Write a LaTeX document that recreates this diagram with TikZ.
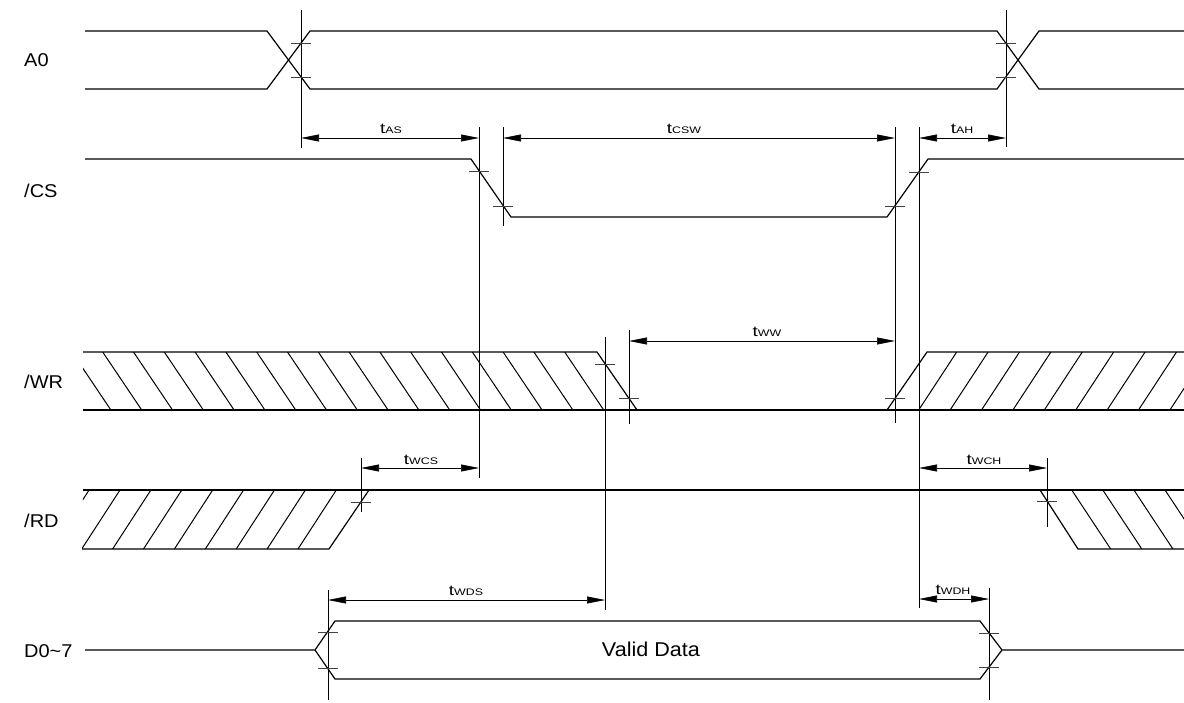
\documentclass[tikz,border=0pt]{standalone}
\usepackage{fontspec}
\setmainfont{Liberation Sans}
\newfontfamily\widefont{Liberation Sans}[FakeStretch=1.3]
\newfontfamily\stretchfont{Liberation Sans}[FakeStretch=1.08]
\usetikzlibrary{arrows.meta}
\newcommand\tsb[1]{t{\fontsize{9.5}{9.5}\selectfont #1}}
\newcommand\mytick[2]{\draw[tickmark] ({#1-10},#2) -- ({#1+10},#2);}
\begin{document}
\begin{tikzpicture}[x=1pt,y=-1pt,
  sig/.style={line width=1.2pt, line join=miter},
  refline/.style={line width=0.75pt},
  tickmark/.style={line width=0.6pt, black!75},
  hatch/.style={line width=1pt},
  dim/.style={line width=0.6pt, {Triangle[length=18pt,width=7pt]}-{Triangle[length=18pt,width=7pt]}},
  siglabel/.style={anchor=base west, inner sep=0pt, font=\stretchfont\fontsize{18.5}{18.5}\selectfont},
  tlabel/.style={anchor=base, inner sep=0pt, font=\widefont\fontsize{14.5}{14.5}\selectfont}]
\useasboundingbox (0,0) rectangle (1184,702);

% signal names
\node[siglabel] (lA0) at (24,66) {A0};
\node[siglabel] (lCS) at (24,197) {/CS};
\node[siglabel] (lWR) at (24,388) {/WR};
\node[siglabel] (lRD) at (24,527) {/RD};
\node[siglabel] (lD) at (24,657) {D0\char`~7};

% hatching
\begin{scope}
\clip (83,352) -- (597,352) -- (637,410) -- (83,410) -- cycle;
\foreach \k in {-1,...,15} \draw[hatch] ({102.7+30.8*\k},352) -- ({141.7+30.8*\k},410);
\end{scope}
\begin{scope}
\clip (887,410) -- (927,352) -- (1184,352) -- (1184,410) -- cycle;
\foreach \k in {0,...,8} \draw[hatch] ({918.7+31.4*\k},410) -- ({956.7+31.4*\k},352);
\end{scope}
\begin{scope}
\clip (83,490) -- (369,490) -- (329,549) -- (82,549) -- cycle;
\foreach \k in {-1,...,7} \draw[hatch] ({81.7+30.9*\k},549) -- ({120+30.9*\k},490);
\end{scope}
\begin{scope}
\clip (1040,490) -- (1184,490) -- (1184,549) -- (1078,549) -- cycle;
\foreach \k in {0,...,4} \draw[hatch] ({1071.7+31.1*\k},490) -- ({1110.7+31.1*\k},549);
\end{scope}

% signals
\draw[sig] (85,31) -- (267,31) -- (310,89) -- (997,89) -- (1039,31) -- (1184,31);
\draw[sig] (85,89) -- (267,89) -- (310,31) -- (997,31) -- (1039,89) -- (1184,89);
\draw[sig] (85,159) -- (471,159) -- (511,217) -- (887,217) -- (928,159) -- (1184,159);
\draw[sig] (83,352) -- (597,352) -- (637,410);
\draw[sig] (83,410) -- (1184,410);
\draw[sig] (887,410) -- (927,352) -- (1184,352);
\draw[sig] (83,490) -- (1184,490);
\draw[sig] (82,549) -- (329,549) -- (369,490);
\draw[sig] (1040,490) -- (1078,549) -- (1184,549);
\draw[sig] (85,650) -- (315,650) -- (335,621) -- (980,621) -- (1002,650) -- (1184,650);
\draw[sig] (315,650) -- (335,679) -- (980,679) -- (1002,650);

% reference verticals
\draw[refline] (301,10) -- (301,148);
\draw[refline] (1006,10) -- (1006,147);
\draw[refline] (479,127) -- (479,478);
\draw[refline] (503,127) -- (503,226);
\draw[refline] (895,127) -- (895,423);
\draw[refline] (919,127) -- (919,608);
\draw[refline] (605,337) -- (605,610);
\draw[refline] (629,330) -- (629,424);
\draw[refline] (361,458) -- (361,512);
\draw[refline] (1047,458) -- (1047,527);
\draw[refline] (328,590) -- (328,700);
\draw[refline] (989,588) -- (989,700);

% ticks
\mytick{301}{43}\mytick{301}{77}
\mytick{1006}{43}\mytick{1006}{77}
\mytick{479}{171}\mytick{503}{206}
\mytick{895}{206}\mytick{919}{172}
\mytick{605}{364}\mytick{629}{398}\mytick{895}{398}
\mytick{361}{502}\mytick{1047}{501}
\mytick{328}{632}\mytick{328}{668}
\mytick{989}{633}\mytick{989}{667}

% dimension endpoints
\coordinate (as1) at (301,138); \coordinate (as2) at (479,138);
\coordinate (csw1) at (503,138); \coordinate (csw2) at (895,138);
\coordinate (ah1) at (919,138); \coordinate (ah2) at (1006,138);
\coordinate (ww1) at (629,341); \coordinate (ww2) at (895,341);
\coordinate (wcs1) at (361,468); \coordinate (wcs2) at (479,468);
\coordinate (wch1) at (919,468); \coordinate (wch2) at (1047,468);
\coordinate (wds1) at (328,600); \coordinate (wds2) at (605,600);
\coordinate (wdh1) at (919,599); \coordinate (wdh2) at (989,599);

\draw[dim] (as1) -- (as2);
\draw[dim] (csw1) -- (csw2);
\draw[dim] (ah1) -- (ah2);
\draw[dim] (ww1) -- (ww2);
\draw[dim] (wcs1) -- (wcs2);
\draw[dim] (wch1) -- (wch2);
\draw[dim] (wds1) -- (wds2);
\draw[dim] (wdh1) -- (wdh2);

\node[tlabel] (tas) at (391,133) {\tsb{AS}};
\node[tlabel] (tcsw) at (684,133) {\tsb{CSW}};
\node[tlabel] (tah) at (962,133) {\tsb{AH}};
\node[tlabel] (tww) at (767,336) {\tsb{WW}};
\node[tlabel] (twcs) at (421,464) {\tsb{WCS}};
\node[tlabel] (twch) at (984,464) {\tsb{WCH}};
\node[tlabel] (twds) at (466,595) {\tsb{WDS}};
\node[tlabel] (twdh) at (953,594) {\tsb{WDH}};

\node[anchor=base, inner sep=0pt, font=\stretchfont\fontsize{20}{20}\selectfont] (vd) at (651,656) {Valid Data};
\end{tikzpicture}
\end{document}
